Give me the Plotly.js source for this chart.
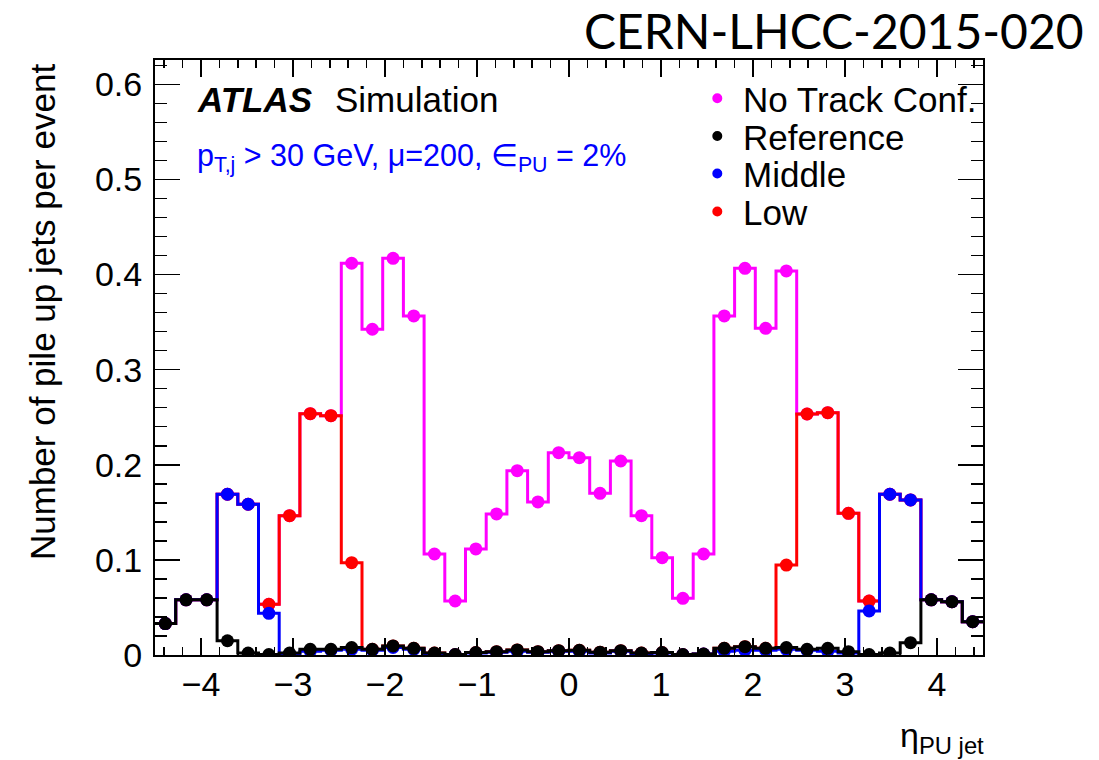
<!DOCTYPE html>
<html>
<head>
<meta charset="utf-8">
<script src="https://cdn.plot.ly/plotly-3.0.1.min.js"></script>
<style>
  html, body { margin: 0; padding: 0; background: #fff; }
  #chart { width: 1099px; height: 760px; }
</style>
</head>
<body>
<div id="chart"></div>
<script>
// Pile-up jet rate versus eta for the tracker layouts (40 bins, |eta| < 4.5)
const etaEdges = [
  -4.5, -4.275, -4.05, -3.825, -3.6, -3.375, -3.15, -2.925, -2.7, -2.475,
  -2.25, -2.025, -1.8, -1.575, -1.35, -1.125, -0.9, -0.675, -0.45, -0.225,
  0, 0.225, 0.45, 0.675, 0.9, 1.125, 1.35, 1.575, 1.8, 2.025,
  2.25, 2.475, 2.7, 2.925, 3.15, 3.375, 3.6, 3.825, 4.05, 4.275, 4.5
];

const seriesNames = ['No Track Conf.', 'Reference', 'Middle', 'Low'];

const noTrackConf = [
  0.033, 0.058, 0.058, 0.169, 0.1585, 0.0533, 0.1465, 0.2537, 0.2516, 0.4119,
  0.3425, 0.4171, 0.3565, 0.1062, 0.0568, 0.1115, 0.1483, 0.1938, 0.1609, 0.2127,
  0.2075, 0.170, 0.204, 0.1465, 0.1023, 0.0596, 0.1062, 0.3565, 0.4066, 0.3435,
  0.4038, 0.2534, 0.2548, 0.149, 0.0568, 0.169, 0.163, 0.058, 0.056, 0.035
];

const reference = [
  0.033, 0.058, 0.058, 0.015, 0.002, 0.0005, 0.002, 0.006, 0.006, 0.0078,
  0.006, 0.0095, 0.007, 0.002, 0.0005, 0.0025, 0.0035, 0.0053, 0.0035, 0.0045,
  0.005, 0.003, 0.0045, 0.002, 0.0025, 0.0005, 0.001, 0.007, 0.0088, 0.007,
  0.0078, 0.006, 0.007, 0.0035, 0.0005, 0.002, 0.013, 0.058, 0.056, 0.035
];

const middle = [
  0.033, 0.058, 0.058, 0.169, 0.1585, 0.0438, 0.001, 0.004, 0.005, 0.006,
  0.005, 0.008, 0.006, 0.001, 0.0003, 0.002, 0.003, 0.004, 0.003, 0.004,
  0.004, 0.002, 0.004, 0.0015, 0.002, 0.0003, 0.001, 0.004, 0.005, 0.005,
  0.006, 0.005, 0.004, 0.002, 0.0463, 0.169, 0.163, 0.058, 0.056, 0.035
];

const low = [
  0.033, 0.058, 0.058, 0.169, 0.1585, 0.0533, 0.1465, 0.2537, 0.2516, 0.0971,
  0.006, 0.0095, 0.007, 0.002, 0.0005, 0.0025, 0.0035, 0.0053, 0.0035, 0.0045,
  0.005, 0.003, 0.0045, 0.002, 0.0025, 0.0005, 0.001, 0.007, 0.0088, 0.007,
  0.0946, 0.2534, 0.2548, 0.149, 0.0568, 0.169, 0.163, 0.058, 0.056, 0.035
];

// Styling kept apart from the values
const colours = {
  'No Track Conf.': '#ff00ff',
  'Reference': '#000000',
  'Middle': '#0000ff',
  'Low': '#ff0000'
};
const valuesByName = {
  'No Track Conf.': noTrackConf,
  'Reference': reference,
  'Middle': middle,
  'Low': low
};
// Histograms are painted back to front in this order
const drawOrder = ['No Track Conf.', 'Low', 'Middle', 'Reference'];

const binCentres = etaEdges.slice(0, -1).map((e, i) => 0.5 * (e + etaEdges[i + 1]));

const traces = [];
drawOrder.forEach(name => {
  const vals = valuesByName[name];
  const col = colours[name];
  // step outline along the bin edges
  traces.push({
    type: 'scatter', mode: 'lines',
    x: etaEdges, y: vals.concat([vals[vals.length - 1]]),
    line: { shape: 'hv', color: col, width: 3 },
    hoverinfo: 'skip', showlegend: false
  });
  // markers at bin centres
  traces.push({
    type: 'scatter', mode: 'markers', name: name,
    x: binCentres, y: vals,
    marker: { color: col, size: 13, symbol: 'circle' },
    showlegend: false
  });
});

// Plot area in pixels (for placing paper-referenced text)
const L = 155, R = 983, T = 60, B = 655, W = 1099, H = 760;
const px = x => (x - L) / (R - L);
const py = y => (B - y) / (B - T);

const txt = 'Liberation Sans, Arial, Helvetica, sans-serif';

function note(o) {
  return Object.assign({ xref: 'paper', yref: 'paper', showarrow: false }, o);
}

const annotations = [
  note({ text: 'CERN-LHCC-2015-020', x: px(1086), y: py(31), xanchor: 'right', yanchor: 'middle',
    font: { family: 'Lato, sans-serif', size: 48, color: '#000' } }),
  note({ text: '<b><i>ATLAS</i></b>', x: px(195), y: py(99), xanchor: 'left', yanchor: 'middle',
    font: { family: txt, size: 35, color: '#000' } }),
  note({ text: 'Simulation', x: px(333), y: py(99), xanchor: 'left', yanchor: 'middle',
    font: { family: txt, size: 35, color: '#000' } }),
  note({ text: 'p<sub>T,j</sub> > 30 GeV, μ=200, ∈<sub>PU</sub> = 2%', x: px(195), y: py(157),
    xanchor: 'left', yanchor: 'middle', font: { family: txt, size: 30.5, color: '#0000ff' } }),
  note({ text: 'Number of pile up jets per event', textangle: -90, x: px(42), y: py(312),
    xanchor: 'center', yanchor: 'middle', font: { family: txt, size: 35, color: '#000' } }),
  note({ text: 'η<sub>PU jet</sub>', x: px(986), y: py(737), xanchor: 'right', yanchor: 'middle',
    font: { family: txt, size: 34, color: '#000' } })
];

// Legend rows
const legendRows = [98.3, 136, 173.5, 211.5];
const shapes = [];
seriesNames.forEach((name, k) => {
  shapes.push({
    type: 'circle', xref: 'paper', yref: 'paper',
    xsizemode: 'pixel', ysizemode: 'pixel',
    xanchor: px(717.3), yanchor: py(legendRows[k]),
    x0: -5, x1: 5, y0: -5, y1: 5,
    fillcolor: colours[name], line: { width: 0 }
  });
  annotations.push(note({
    text: name, x: px(741), y: py(legendRows[k] + 1), xanchor: 'left', yanchor: 'middle',
    font: { family: txt, size: 35, color: '#000' }
  }));
});

const layout = {
  width: W, height: H,
  margin: { l: L, r: W - R, t: T, b: H - B, pad: 0 },
  paper_bgcolor: '#fff', plot_bgcolor: '#fff',
  showlegend: false,
  xaxis: {
    range: [-4.5, 4.5], tick0: 0, dtick: 1,
    ticks: 'inside', ticklen: 17, tickwidth: 1.5, tickcolor: '#000',
    minor: { dtick: 0.2, ticks: 'inside', ticklen: 8, tickwidth: 1.5, tickcolor: '#000' },
    showline: true, linecolor: '#000', linewidth: 2, mirror: 'allticks',
    showgrid: false, zeroline: false,
    tickfont: { family: txt, size: 34, color: '#000' },
    ticklabelstandoff: -2
  },
  yaxis: {
    range: [0, 0.6256], tick0: 0, dtick: 0.1,
    ticks: 'inside', ticklen: 25, tickwidth: 1.5, tickcolor: '#000',
    minor: { dtick: 0.02, ticks: 'inside', ticklen: 12, tickwidth: 1.5, tickcolor: '#000' },
    showline: true, linecolor: '#000', linewidth: 2, mirror: 'allticks',
    showgrid: false, zeroline: false,
    tickfont: { family: txt, size: 34, color: '#000' },
    ticklabelstandoff: 4
  },
  annotations: annotations,
  shapes: shapes
};

Plotly.newPlot('chart', traces, layout, { displayModeBar: false, staticPlot: true });
</script>
</body>
</html>
